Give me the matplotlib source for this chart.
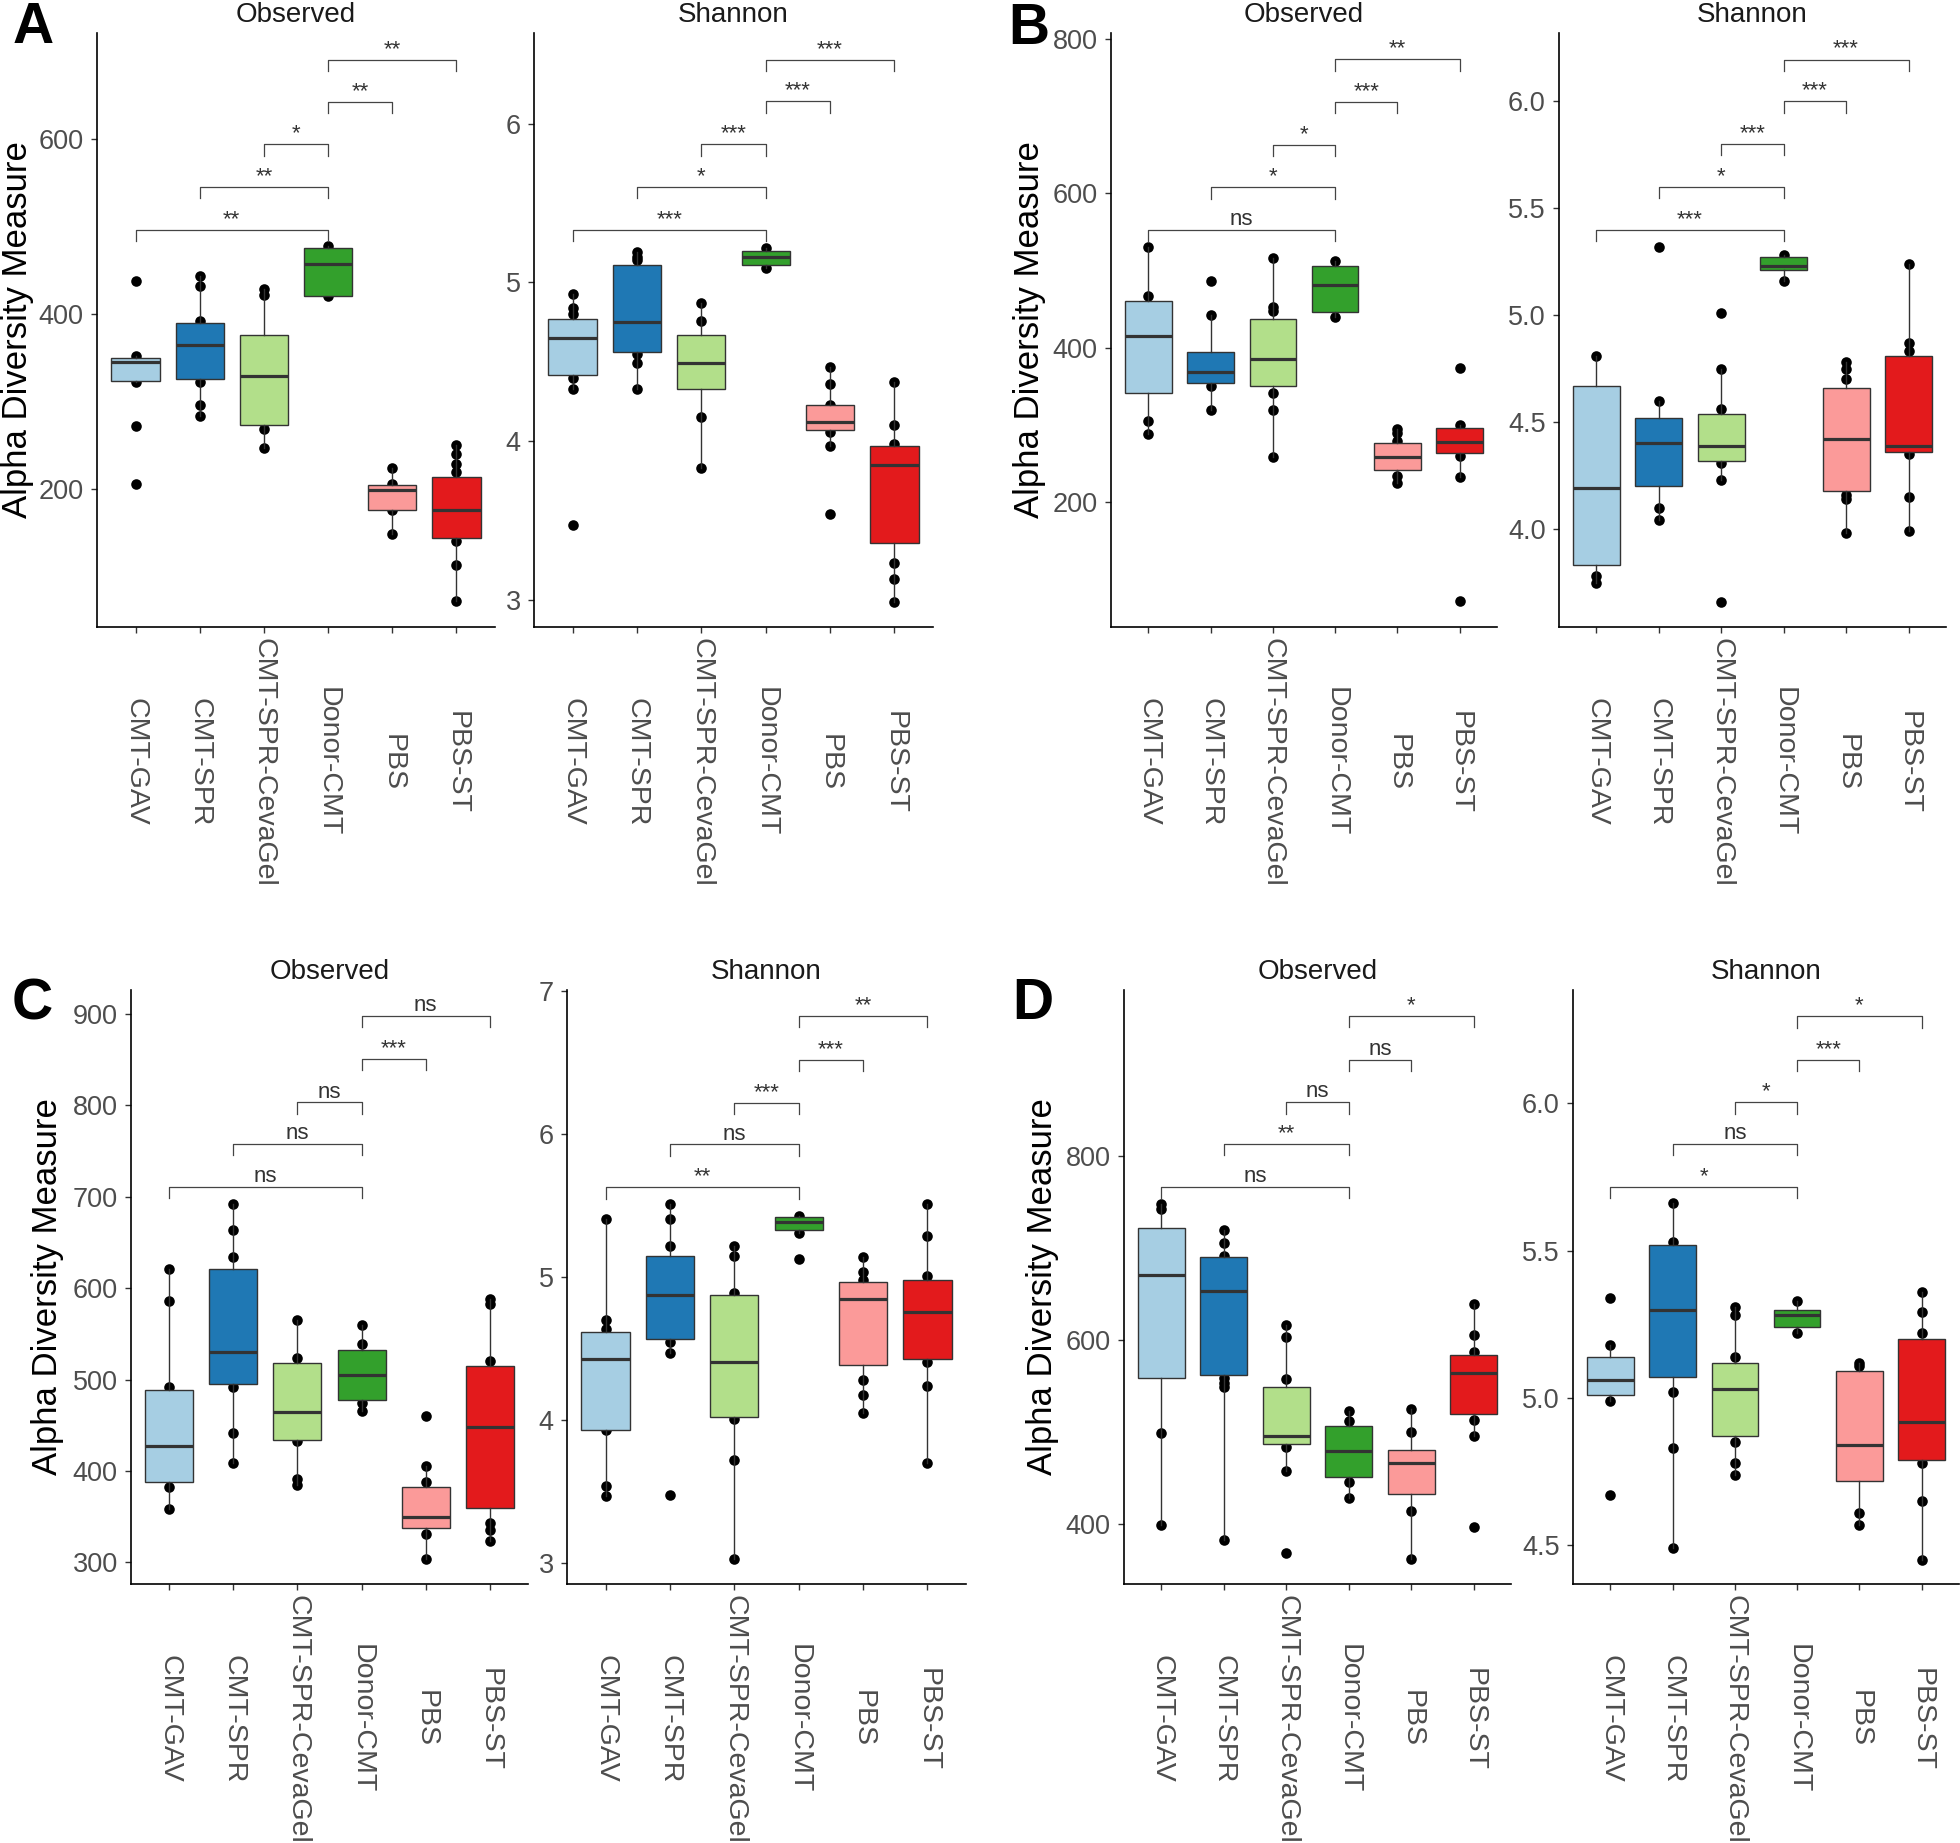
import matplotlib
matplotlib.use("Agg")
import matplotlib.pyplot as plt

plt.rcParams["font.family"] = ["Liberation Sans", "DejaVu Sans"]

GROUPS = ["CMT-GAV", "CMT-SPR", "CMT-SPR-CevaGel", "Donor-CMT", "PBS", "PBS-ST"]
COLORS = ["#A6CEE3", "#1F78B4", "#B2DF8A", "#33A02C", "#FB9A99", "#E31A1C"]
PAIRS = [(1, 4), (2, 4), (3, 4), (4, 5), (4, 6)]

# box stats per group: q1, median, q3, lower whisker, upper whisker
A_OBS_BOX = [[323, 345, 349, 322, 352], [325, 364, 390, 283, 443], [273, 329, 376, 246, 428],
             [421, 457, 475, 421, 478], [176, 198, 204, 148, 224], [144, 175, 213, 71, 250]]
A_OBS_PTS = [[438, 352, 322, 272, 205], [443, 432, 392, 322, 296, 283], [428, 422, 268, 246],
             [478, 426, 421], [224, 205, 175, 148], [250, 240, 228, 219, 140, 112, 71]]
A_OBS_SIG = ["**", "**", "*", "**", "**"]
A_OBS_SIG_Y = [496, 545, 594, 643, 691]

A_SH_BOX = [[4.42, 4.65, 4.77, 4.33, 4.93], [4.56, 4.75, 5.11, 4.33, 5.19], [4.33, 4.49, 4.67, 3.83, 4.87],
            [5.11, 5.16, 5.20, 5.09, 5.22], [4.07, 4.12, 4.23, 3.97, 4.47], [3.36, 3.85, 3.97, 2.99, 4.37]]
A_SH_PTS = [[4.93, 4.84, 4.80, 4.40, 4.33, 3.47], [5.19, 5.16, 5.14, 4.55, 4.49, 4.33], [4.87, 4.76, 4.15, 3.83],
            [5.22, 5.09], [4.47, 4.36, 4.23, 4.06, 3.97, 3.54], [4.37, 4.10, 3.98, 3.23, 3.13, 2.99]]
A_SH_SIG = ["***", "*", "***", "***", "***"]
A_SH_SIG_Y = [5.33, 5.60, 5.87, 6.14, 6.40]

B_OBS_BOX = [[341, 415, 461, 288, 531], [354, 368, 394, 320, 443], [350, 385, 437, 259, 517],
             [447, 481, 506, 440, 512], [241, 259, 277, 225, 295], [263, 278, 296, 232, 300]]
B_OBS_PTS = [[531, 467, 305, 288], [487, 443, 350, 320], [517, 453, 448, 342, 320, 259],
             [512, 440], [295, 289, 279, 234, 225], [374, 300, 260, 232, 72]]
B_OBS_SIG = ["ns", "*", "*", "***", "**"]
B_OBS_SIG_Y = [553, 608, 663, 719, 774]

B_SH_BOX = [[3.83, 4.19, 4.67, 3.75, 4.81], [4.20, 4.40, 4.52, 4.04, 4.60], [4.32, 4.39, 4.54, 4.23, 4.75],
            [5.21, 5.23, 5.27, 5.16, 5.28], [4.18, 4.42, 4.66, 3.98, 4.78], [4.36, 4.39, 4.81, 3.99, 5.24]]
B_SH_PTS = [[4.81, 3.78, 3.75], [5.32, 4.60, 4.10, 4.04], [5.01, 4.75, 4.56, 4.31, 4.23, 3.66],
            [5.28, 5.16], [4.78, 4.75, 4.70, 4.16, 4.14, 3.98], [5.24, 4.87, 4.83, 4.35, 4.15, 3.99]]
B_SH_SIG = ["***", "*", "***", "***", "***"]
B_SH_SIG_Y = [5.40, 5.60, 5.80, 6.00, 6.195]

C_OBS_BOX = [[388, 427, 489, 358, 621], [495, 530, 621, 409, 692], [434, 464, 518, 385, 565],
             [478, 505, 532, 466, 560], [338, 350, 382, 304, 405], [359, 448, 515, 323, 588]]
C_OBS_PTS = [[621, 586, 492, 383, 358], [692, 663, 634, 492, 441, 409], [565, 524, 433, 391, 385],
             [560, 539, 474, 466], [460, 405, 388, 331, 304], [588, 583, 520, 343, 335, 323]]
C_OBS_SIG = ["ns", "ns", "ns", "***", "ns"]
C_OBS_SIG_Y = [711, 758, 803, 851, 898]

C_SH_BOX = [[3.93, 4.43, 4.62, 3.47, 5.41], [4.57, 4.88, 5.15, 4.47, 5.51], [4.02, 4.41, 4.88, 3.03, 5.22],
            [5.33, 5.39, 5.42, 5.31, 5.43], [4.39, 4.85, 4.97, 4.05, 5.14], [4.43, 4.76, 4.98, 3.70, 5.51]]
C_SH_PTS = [[5.41, 4.70, 4.64, 3.93, 3.54, 3.47], [5.51, 5.41, 5.22, 4.55, 4.47, 3.48],
            [5.22, 5.15, 4.89, 4.01, 3.72, 3.03], [5.43, 5.31, 5.13],
            [5.14, 5.04, 4.98, 4.28, 4.18, 4.05], [5.51, 5.29, 5.01, 4.41, 4.24, 3.70]]
C_SH_SIG = ["**", "ns", "***", "***", "**"]
C_SH_SIG_Y = [5.63, 5.93, 6.22, 6.52, 6.83]

D_OBS_BOX = [[558, 670, 721, 399, 748], [562, 653, 690, 382, 719], [487, 496, 549, 457, 616],
             [451, 479, 506, 428, 523], [432, 466, 480, 362, 525], [519, 564, 584, 496, 639]]
D_OBS_PTS = [[748, 742, 499, 399], [719, 705, 691, 558, 553, 549, 382], [616, 603, 557, 483, 457, 368],
             [523, 512, 445, 428], [525, 500, 414, 362], [639, 605, 587, 513, 496, 397]]
D_OBS_SIG = ["ns", "**", "ns", "ns", "*"]
D_OBS_SIG_Y = [766, 813, 858, 904, 952]

D_SH_BOX = [[5.01, 5.06, 5.14, 4.99, 5.18], [5.07, 5.30, 5.52, 4.49, 5.66], [4.87, 5.03, 5.12, 4.74, 5.31],
            [5.24, 5.28, 5.30, 5.22, 5.33], [4.72, 4.84, 5.09, 4.57, 5.12], [4.79, 4.92, 5.20, 4.45, 5.36]]
D_SH_PTS = [[5.34, 5.18, 4.99, 4.67], [5.66, 5.53, 5.02, 4.83, 4.49], [5.31, 5.28, 5.14, 4.85, 4.78, 4.74],
            [5.33, 5.22], [5.12, 5.11, 4.61, 4.57], [5.36, 5.29, 5.22, 4.78, 4.65, 4.45]]
D_SH_SIG = ["*", "ns", "*", "***", "*"]
D_SH_SIG_Y = [5.716, 5.861, 6.003, 6.148, 6.295]

W, H = 1960, 1843
fig = plt.figure(figsize=(W / 100, H / 100), dpi=100)


def add_ax(x0, x1, top, bot):
    return fig.add_axes([x0 / W, 1 - bot / H, (x1 - x0) / W, (bot - top) / H])


def draw(ax, title, box, pts, sig, sig_y, ylim, yticks, yticklabels):
    stats = [dict(q1=b[0], med=b[1], q3=b[2], whislo=b[3], whishi=b[4], fliers=[]) for b in box]
    # points first: the boxes sit on top of them, as in the original
    for i, vals in enumerate(pts):
        ax.scatter([i + 1] * len(vals), vals, s=58, color="black", linewidths=0, zorder=2)
    bp = ax.bxp(stats, positions=range(1, 7), widths=0.75, patch_artist=True,
                showcaps=False, showfliers=False,
                boxprops=dict(edgecolor="#333333", linewidth=1.0),
                medianprops=dict(color="#333333", linewidth=2.3),
                whiskerprops=dict(color="#333333", linewidth=1.0), zorder=3)
    for patch, c in zip(bp["boxes"], COLORS):
        patch.set_facecolor(c)

    tip = 0.019 * (ylim[1] - ylim[0])
    for (a, b), lab, y in zip(PAIRS, sig, sig_y):
        ax.plot([a, a, b, b], [y - tip, y, y, y - tip], color="#444444", lw=0.9, zorder=4)
        ax.annotate(lab, ((a + b) / 2, y), xytext=(0, 3.5), textcoords="offset points",
                    ha="center", va="baseline", fontsize=16, color="#333333")

    ax.set_xlim(0.4, 6.6)
    ax.set_ylim(*ylim)
    ax.set_yticks(yticks)
    ax.set_yticklabels(yticklabels)
    ax.set_xticks(range(1, 7))
    ax.set_xticklabels(GROUPS, rotation=-90, ha="center", va="center")
    ax.tick_params(axis="both", length=4.5, width=1.0, color="#333333", labelcolor="#4D4D4D")
    ax.tick_params(axis="x", pad=92.7, labelsize=20.5)
    ax.tick_params(axis="y", pad=5, labelsize=19.5)
    for s in ("top", "right"):
        ax.spines[s].set_visible(False)
    for s in ("left", "bottom"):
        ax.spines[s].set_linewidth(1.2)
        ax.spines[s].set_color("black")
    ax.set_title(title, fontsize=20, color="#1A1A1A", pad=8)


def fmt(ticks, nd):
    return [f"{t:.{nd}f}" for t in ticks]


# panel A
t = [200, 400, 600]
draw(add_ax(97, 495, 33, 627), "Observed", A_OBS_BOX, A_OBS_PTS, A_OBS_SIG, A_OBS_SIG_Y,
     (41.6, 721.5), t, fmt(t, 0))
t = [3, 4, 5, 6]
draw(add_ax(534, 933, 33, 627), "Shannon", A_SH_BOX, A_SH_PTS, A_SH_SIG, A_SH_SIG_Y,
     (2.83, 6.571), t, fmt(t, 0))
# panel B
t = [200, 400, 600, 800]
draw(add_ax(1111, 1497, 33, 627), "Observed", B_OBS_BOX, B_OBS_PTS, B_OBS_SIG, B_OBS_SIG_Y,
     (38.1, 808), t, fmt(t, 0))
t = [4.0, 4.5, 5.0, 5.5, 6.0]
draw(add_ax(1559, 1946, 33, 627), "Shannon", B_SH_BOX, B_SH_PTS, B_SH_SIG, B_SH_SIG_Y,
     (3.542, 6.319), t, fmt(t, 1))
# panel C
t = [300, 400, 500, 600, 700, 800, 900]
draw(add_ax(131, 528, 990, 1584), "Observed", C_OBS_BOX, C_OBS_PTS, C_OBS_SIG, C_OBS_SIG_Y,
     (276.4, 926), t, fmt(t, 0))
t = [3, 4, 5, 6, 7]
draw(add_ax(567, 966, 990, 1584), "Shannon", C_SH_BOX, C_SH_PTS, C_SH_SIG, C_SH_SIG_Y,
     (2.855, 7.01), t, fmt(t, 0))
# panel D
t = [400, 600, 800]
draw(add_ax(1124, 1511, 990, 1584), "Observed", D_OBS_BOX, D_OBS_PTS, D_OBS_SIG, D_OBS_SIG_Y,
     (334.7, 980), t, fmt(t, 0))
t = [4.5, 5.0, 5.5, 6.0]
draw(add_ax(1573, 1959, 990, 1584), "Shannon", D_SH_BOX, D_SH_PTS, D_SH_SIG, D_SH_SIG_Y,
     (4.369, 6.384), t, fmt(t, 1))

# y axis titles and panel letters
for x, y in [(18, 330), (1030, 330), (47, 1287), (1042, 1287)]:
    fig.text(x / W, 1 - y / H, "Alpha Diversity Measure", rotation=90, ha="center", va="center",
             fontsize=25, color="black")
for lab, x, y in [("A", 13, 43), ("B", 1008, 44), ("C", 12, 1019), ("D", 1012, 1019)]:
    fig.text(x / W, 1 - y / H, lab, ha="left", va="baseline", fontsize=41,
             fontweight="bold", color="black")

fig.savefig("out.png", dpi=100)
